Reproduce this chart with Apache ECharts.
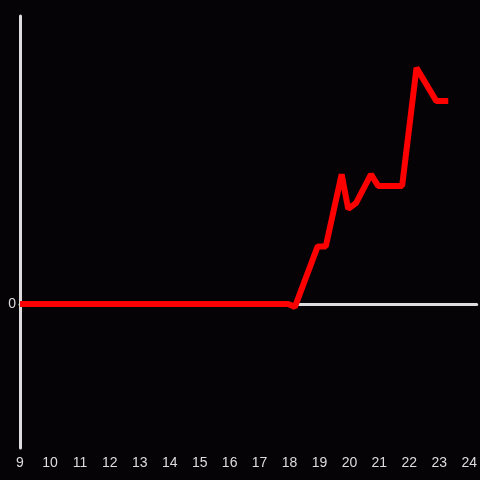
<!DOCTYPE html>
<html>
<head>
<meta charset="utf-8">
<script src="https://cdn.jsdelivr.net/npm/echarts@6/dist/echarts.min.js"></script>
<style>
  html, body { margin: 0; padding: 0; background: #050305; }
  #chart { width: 480px; height: 480px; }
</style>
</head>
<body>
<div id="chart"></div>
<script>
// time (hour) values and readings
var hours = [9, 17.95, 18.18, 18.94, 19.21, 19.74, 19.96, 20.22, 20.72, 20.96, 21.76, 22.24, 22.9, 23.3];
var values = [0, 0, -1, 20, 20, 45, 33, 35, 45, 41, 41, 82, 70.5, 70.5];

function buildPoints() {
    var pts = [];
    for (var i = 0; i < hours.length; i++) {
        pts.push([hours[i], values[i]]);
    }
    return pts;
}

var dom = document.getElementById('chart');
var myChart = echarts.init(dom);

var option = {
    backgroundColor: '#050305',
    animation: false,
    grid: {
        left: 20,
        right: 0,
        top: 16,
        bottom: 32
    },
    xAxis: {
        type: 'value',
        min: 9,
        max: 24.25,
        interval: 1,
        axisLine: { onZero: true, lineStyle: { color: '#dddddd', width: 3 } },
        axisTick: { show: false },
        splitLine: { show: false },
        axisLabel: {
            color: '#dddddd',
            fontSize: 14,
            margin: 8,
            showMaxLabel: false,
            formatter: function (v) {
                return v > 24 ? '' : String(v);
            }
        }
    },
    yAxis: {
        type: 'value',
        min: -50,
        max: 100,
        interval: 50,
        axisLine: { show: true, lineStyle: { color: '#dddddd', width: 3 } },
        axisTick: { show: false },
        splitLine: { show: false },
        axisLabel: {
            color: '#dddddd',
            fontSize: 14,
            margin: 4,
            formatter: function (v) {
                return v === 0 ? '0' : '';
            }
        }
    },
    series: [
        {
            type: 'line',
            data: buildPoints(),
            showSymbol: false,
            lineStyle: { color: '#ff0000', width: 6 }
        }
    ]
};

myChart.setOption(option);
</script>
</body>
</html>
